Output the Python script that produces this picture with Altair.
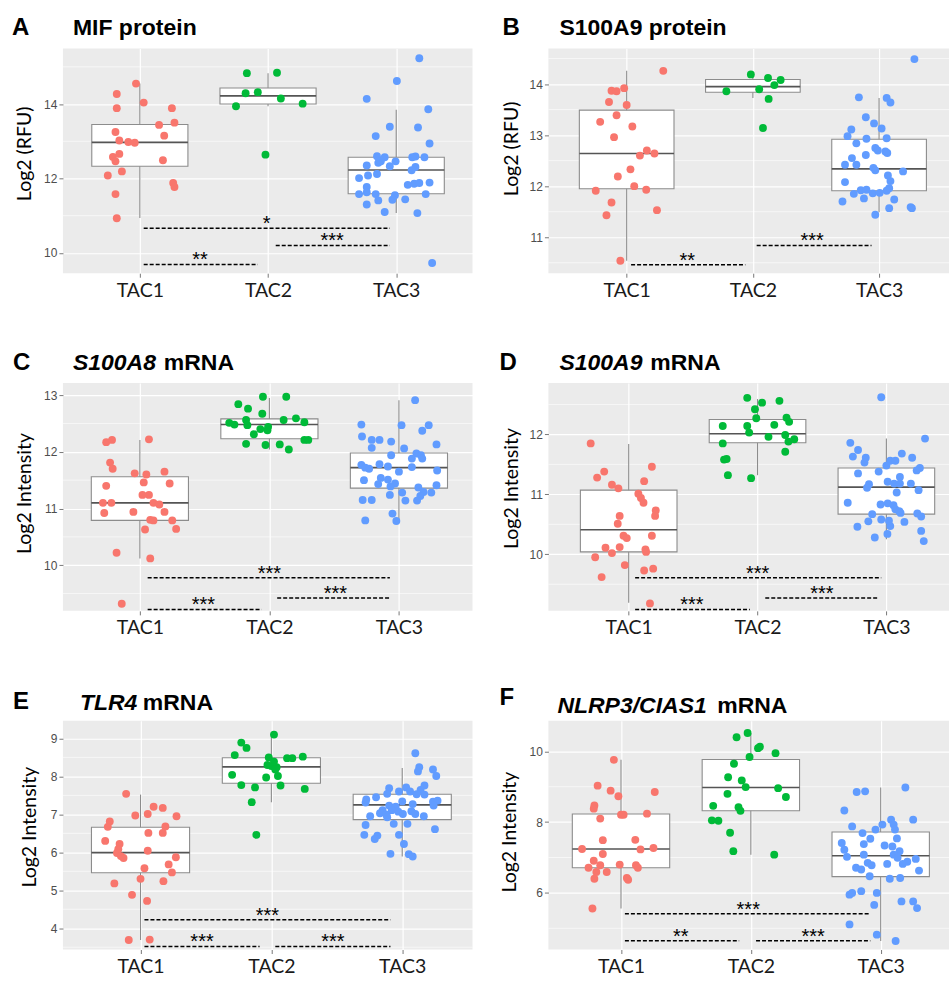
import altair as alt
import pandas as pd

CATS = ["TAC1", "TAC2", "TAC3"]
COLORS = ["#F8766D", "#00BA38", "#619CFF"]

# ---------------- Panel A : MIF protein ----------------
A_TAC1_Y = [14.55, 14.27, 13.89, 14.04, 13.89, 13.44, 13.50, 13.25, 13.15, 13.02, 12.98, 12.96, 12.58, 12.66, 12.46, 12.49, 12.19, 12.08, 11.88, 11.77, 11.58, 10.93]
A_TAC1_J = [-0.03, -0.18, -0.18, 0.03, 0.25, 0.15, 0.27, -0.19, 0.19, -0.16, -0.09, -0.04, -0.21, -0.16, -0.19, 0.18, -0.14, -0.25, 0.26, 0.27, -0.19, -0.18]
A_TAC2_Y = [14.83, 14.84, 14.29, 14.32, 14.15, 13.94, 14.01, 12.64]
A_TAC2_J = [-0.165, 0.07, -0.175, -0.08, 0.10, -0.25, 0.27, -0.02]
A_TAC3_Y = [15.23, 14.62, 14.14, 13.86, 13.39, 13.37, 13.14, 12.94, 12.60, 12.57, 12.59, 12.57, 12.46, 12.42, 12.46, 12.33, 12.57, 12.35, 12.31, 12.22,
            12.01, 12.08, 12.12, 11.83, 11.86, 11.88, 11.89, 11.77, 11.58, 11.63, 11.58, 11.55, 11.43, 11.58, 11.41, 11.44, 11.30, 11.10, 11.07, 9.73]
A_TAC3_J = [0.18, 0.005, -0.23, 0.25, -0.05, 0.17, -0.16, 0.26, -0.15, -0.09, 0.15, 0.22, -0.12, -0.14, -0.005, -0.05, 0.125, -0.23, 0.15, 0.12,
            -0.29, -0.22, -0.15, 0.09, 0.14, 0.18, 0.26, -0.23, -0.29, -0.23, -0.16, -0.01, -0.03, 0.23, -0.14, 0.07, -0.23, -0.09, 0.165, 0.28]
A_BOX_LO = [10.94, 13.94, 11.07]
A_BOX_Q1 = [12.33, 14.00, 11.59]
A_BOX_MED = [12.97, 14.22, 12.23]
A_BOX_Q3 = [13.45, 14.43, 12.57]
A_BOX_HI = [14.55, 14.83, 13.85]
A_SIG_X1 = [1.03, 2.06, 1.03]
A_SIG_X2 = [2.95, 2.95, 1.92]
A_SIG_Y = [10.66, 10.20, 9.69]
A_SIG_TX = [1.99, 2.50, 1.47]
A_SIG_LAB = ["*", "***", "**"]
A_MAJOR = [10, 12, 14]
A_MINOR = [11, 13, 15]

# ---------------- Panel B : S100A9 protein ----------------
B_TAC1_Y = [14.26, 13.87, 13.86, 13.92, 13.65, 13.59, 13.39, 13.26, 13.17, 12.96, 12.70, 12.60, 12.64, 12.33, 12.19, 12.00, 11.91, 11.93, 11.68, 11.43, 11.53, 10.54]
B_TAC1_J = [0.29, -0.12, -0.08, -0.02, -0.14, 0.0, -0.08, -0.21, 0.045, -0.10, 0.16, 0.105, 0.22, 0.03, -0.07, 0.06, -0.245, 0.155, -0.12, -0.16, 0.24, -0.05]
B_TAC2_Y = [14.19, 14.12, 14.08, 13.98, 13.86, 13.90, 13.71, 13.14]
B_TAC2_J = [-0.016, 0.12, 0.22, 0.17, -0.21, 0.05, 0.125, 0.08]
B_TAC3_Y = [14.49, 13.74, 13.73, 13.64, 13.35, 13.23, 13.13, 13.11, 12.98, 12.93, 12.94, 12.84, 12.75, 12.70, 12.65, 12.68, 12.55, 12.61, 12.42, 12.42,
            12.36, 12.31, 12.29, 12.21, 12.10, 12.08, 11.96, 11.92, 11.93, 11.91, 11.86, 11.87, 11.85, 11.76, 11.74, 11.70, 11.57, 11.59, 11.57, 11.44]
B_TAC3_J = [0.28, -0.16, 0.06, 0.09, -0.105, -0.04, 0.02, -0.22, -0.25, -0.10, 0.06, -0.18, -0.03, -0.01, 0.065, 0.05, -0.215, -0.105, -0.27, -0.18,
            -0.045, -0.03, 0.19, 0.07, 0.09, -0.27, 0.08, -0.145, -0.10, 0.06, -0.05, 0.005, -0.20, -0.12, 0.12, -0.29, 0.08, 0.25, 0.26, -0.03]
B_BOX_LO = [10.54, 13.73, 11.49]
B_BOX_Q1 = [11.95, 13.84, 11.91]
B_BOX_MED = [12.64, 13.95, 12.34]
B_BOX_Q3 = [13.49, 14.09, 12.92]
B_BOX_HI = [14.26, 14.19, 13.73]
B_SIG_X1 = [1.035, 2.03]
B_SIG_X2 = [1.94, 2.94]
B_SIG_Y = [10.46, 10.84]
B_SIG_TX = [1.48, 2.47]
B_SIG_LAB = ["**", "***"]
B_MAJOR = [11, 12, 13, 14]
B_MINOR = [10.5, 11.5, 12.5, 13.5, 14.5]

# ---------------- Panel C : S100A8 mRNA ----------------
C_TAC1_Y = [12.17, 12.21, 12.22, 11.81, 11.70, 11.62, 11.60, 11.65, 11.46, 11.44, 11.40, 11.24, 11.24, 11.10, 11.10, 11.10, 11.07, 10.94, 10.92, 10.94,
            10.80, 10.79, 10.79, 10.63, 10.64, 10.22, 10.12, 9.32]
C_TAC1_J = [-0.26, -0.215, 0.07, -0.23, -0.21, -0.04, 0.05, 0.19, 0.03, 0.23, -0.26, 0.02, 0.07, -0.285, -0.22, 0.105, 0.15, -0.05, -0.275, 0.19,
            0.08, 0.105, 0.25, 0.04, 0.28, -0.18, 0.08, -0.14]
C_TAC2_Y = [12.97, 12.97, 12.84, 12.76, 12.67, 12.56, 12.59, 12.56, 12.52, 12.51, 12.48, 12.47, 12.44, 12.40, 12.38, 12.31, 12.21, 12.21, 12.14, 12.12, 12.13, 12.04]
C_TAC2_J = [-0.05, 0.13, -0.24, -0.165, -0.055, 0.11, 0.205, -0.18, 0.27, -0.31, -0.27, -0.17, -0.01, -0.07, -0.015, -0.12, 0.27, 0.30, -0.18, -0.03, 0.08, 0.15]
C_TAC3_Y = [12.91, 12.48, 12.47, 12.47, 12.37, 12.27, 12.21, 12.21, 12.18, 12.13, 12.07, 12.06, 11.94, 11.97, 11.94, 11.88, 11.88, 11.77, 11.78, 11.74,
            11.72, 11.70, 11.73, 11.67, 11.65, 11.54, 11.51, 11.50, 11.43, 11.44, 11.41, 11.39, 11.37, 11.28, 11.29, 11.28, 11.22, 11.24, 11.15, 11.15,
            11.14, 11.14, 10.91, 10.79, 10.78]
C_TAC3_J = [0.125, -0.29, 0.02, 0.23, 0.18, -0.285, -0.21, -0.15, -0.06, 0.29, -0.21, 0.04, -0.06, 0.135, 0.17, 0.10, 0.18, -0.29, -0.15, -0.085,
            -0.26, -0.23, 0.10, 0.295, 0.0, -0.14, -0.085, -0.27, -0.16, -0.03, 0.29, -0.065, 0.15, 0.025, 0.19, 0.25, 0.165, -0.07, -0.28, -0.21,
            0.05, 0.14, -0.05, -0.26, -0.02]
C_BOX_LO = [10.12, 12.04, 10.78]
C_BOX_Q1 = [10.79, 12.23, 11.36]
C_BOX_MED = [11.10, 12.48, 11.72]
C_BOX_Q3 = [11.56, 12.58, 11.98]
C_BOX_HI = [12.21, 12.95, 12.91]
C_SIG_X1 = [1.06, 2.06, 1.06]
C_SIG_X2 = [2.93, 2.93, 1.94]
C_SIG_Y = [9.78, 9.42, 9.22]
C_SIG_TX = [2.0, 2.51, 1.49]
C_SIG_LAB = ["***", "***", "***"]
C_MAJOR = [10, 11, 12, 13]
C_MINOR = [9.5, 10.5, 11.5, 12.5]

# ---------------- Panel D : S100A9 mRNA ----------------
D_TAC1_Y = [11.85, 11.38, 11.28, 11.46, 11.16, 11.10, 11.22, 11.01, 10.94, 10.86, 10.64, 10.73, 10.64, 10.51, 10.31, 10.27, 10.31, 10.11, 10.12, 10.02,
            10.08, 10.04, 9.95, 9.82, 9.73, 9.76, 9.62, 9.18]
D_TAC1_J = [-0.295, -0.19, -0.245, 0.18, -0.13, -0.08, 0.12, 0.075, 0.095, 0.115, -0.07, 0.21, 0.205, -0.085, -0.04, -0.015, 0.18, -0.18, -0.07, -0.13,
            0.13, 0.135, -0.26, -0.03, 0.12, 0.19, -0.21, 0.165]
D_TAC2_Y = [12.61, 12.53, 12.56, 12.42, 12.27, 12.28, 12.21, 12.14, 12.14, 12.16, 12.03, 11.96, 11.99, 11.92, 11.88, 11.85, 11.71, 11.58, 11.59, 11.32, 11.27]
D_TAC2_J = [-0.08, 0.035, 0.17, -0.02, -0.01, 0.225, 0.245, -0.27, -0.08, 0.13, -0.065, 0.085, 0.215, 0.285, 0.24, -0.27, 0.215, -0.26, -0.24, -0.23, -0.05]
D_TAC3_Y = [12.62, 11.93, 11.86, 11.74, 11.63, 11.61, 11.53, 11.68, 11.61, 11.56, 11.56, 11.48, 11.44, 11.40, 11.38, 11.35, 11.29, 11.21, 11.18, 11.18,
            11.18, 11.17, 11.11, 11.07, 11.03, 10.86, 10.83, 10.85, 10.82, 10.75, 10.72, 10.69, 10.68, 10.67, 10.63, 10.58, 10.55, 10.56, 10.54, 10.46,
            10.47, 10.39, 10.34, 10.28, 10.22]
D_TAC3_J = [-0.04, 0.30, -0.28, -0.22, -0.26, -0.16, -0.17, 0.12, 0.20, 0.03, 0.07, 0.0, 0.26, 0.235, -0.06, -0.22, 0.105, 0.01, 0.06, 0.105,
            0.19, -0.135, -0.15, 0.25, 0.08, -0.30, -0.045, 0.01, 0.055, 0.07, 0.10, 0.11, 0.24, -0.11, 0.27, -0.04, -0.14, 0.02, 0.14, -0.225,
            0.03, 0.27, 0.008, -0.09, 0.29]
D_BOX_LO = [9.19, 11.32, 10.25]
D_BOX_Q1 = [10.04, 11.86, 10.67]
D_BOX_MED = [10.41, 12.01, 11.12]
D_BOX_Q3 = [11.07, 12.25, 11.44]
D_BOX_HI = [11.84, 12.59, 11.93]
D_SIG_X1 = [1.05, 2.06, 1.05]
D_SIG_X2 = [2.96, 2.94, 1.94]
D_SIG_Y = [9.61, 9.27, 9.08]
D_SIG_TX = [2.0, 2.50, 1.49]
D_SIG_LAB = ["***", "***", "***"]
D_MAJOR = [10, 11, 12]
D_MINOR = [9.5, 10.5, 11.5, 12.5]

# ---------------- Panel E : TLR4 mRNA ----------------
E_TAC1_Y = [7.54, 7.20, 7.17, 6.81, 6.67, 6.97, 7.01, 6.95, 6.68, 6.51, 6.51, 6.30, 6.22, 6.08, 6.04, 5.98, 5.90, 5.85, 5.87, 5.68,
            5.58, 5.47, 5.30, 5.24, 5.18, 4.88, 4.72, 3.69, 3.70]
E_TAC1_J = [-0.11, 0.10, 0.17, -0.235, -0.25, -0.04, 0.055, 0.275, 0.19, 0.17, 0.06, -0.27, -0.16, -0.17, 0.055, -0.18, -0.15, -0.13, 0.27, 0.215,
            0.03, 0.24, 0.0, 0.175, -0.20, -0.065, 0.05, -0.09, 0.07]
E_TAC2_Y = [9.10, 8.89, 8.75, 8.56, 8.50, 8.48, 8.48, 8.52, 8.39, 8.30, 8.27, 8.24, 8.18, 8.04, 8.01, 7.97, 7.77, 7.71, 7.76, 7.67, 7.32, 6.46]
E_TAC2_J = [0.02, -0.23, -0.19, -0.28, -0.02, 0.12, 0.16, 0.24, 0.02, -0.03, 0.0, 0.04, 0.03, -0.30, 0.05, -0.04, -0.23, -0.125, 0.07, 0.255, -0.15, -0.115]
E_TAC3_Y = [8.61, 8.24, 8.13, 8.18, 8.01, 7.76, 7.69, 7.60, 7.71, 7.60, 7.64, 7.54, 7.53, 7.52, 7.45, 7.39, 7.31, 7.34, 7.33, 7.36,
            7.23, 7.20, 7.27, 7.23, 7.11, 7.11, 7.07, 7.08, 7.03, 6.99, 7.01, 7.01, 6.95, 6.92, 6.95, 6.75, 6.75, 6.72, 6.61, 6.46,
            6.46, 6.44, 6.35, 6.22, 5.96, 5.95, 5.89]
E_TAC3_J = [0.10, 0.13, 0.12, 0.235, 0.26, 0.17, -0.10, -0.025, 0.03, 0.06, 0.14, -0.115, 0.11, 0.17, -0.20, -0.275, -0.28, 0.0, 0.235, 0.27,
            -0.10, -0.05, 0.08, 0.24, -0.15, -0.08, -0.03, 0.07, -0.17, -0.12, 0.005, 0.10, -0.245, -0.115, 0.165, -0.065, 0.04, -0.28, 0.25, -0.29,
            -0.025, -0.19, -0.21, 0.013, -0.09, 0.05, 0.08]
E_BOX_LO = [3.69, 7.32, 5.89]
E_BOX_Q1 = [5.46, 7.82, 6.86]
E_BOX_MED = [5.99, 8.25, 7.25]
E_BOX_Q3 = [6.66, 8.49, 7.53]
E_BOX_HI = [7.52, 9.10, 8.22]
E_SIG_X1 = [1.03, 1.03, 2.03]
E_SIG_X2 = [2.91, 1.91, 2.91]
E_SIG_Y = [4.22, 3.52, 3.52]
E_SIG_TX = [1.97, 1.47, 2.47]
E_SIG_LAB = ["***", "***", "***"]
E_MAJOR = [4, 5, 6, 7, 8, 9]
E_MINOR = [3.5, 4.5, 5.5, 6.5, 7.5, 8.5]

# ---------------- Panel F : NLRP3/CIAS1 mRNA ----------------
F_TAC1_Y = [9.76, 9.03, 8.89, 8.73, 8.85, 8.47, 8.38, 8.21, 8.21, 8.24, 8.10, 7.49, 7.50, 7.24, 7.23, 7.27, 7.10, 6.91, 6.78, 6.80,
            6.78, 6.71, 6.71, 6.59, 6.59, 6.40, 6.42, 6.37, 5.56]
F_TAC1_J = [-0.055, -0.18, -0.08, -0.02, 0.26, -0.205, -0.21, 0.0, 0.02, 0.20, -0.16, -0.14, 0.11, -0.30, 0.15, 0.25, -0.14, -0.21, -0.16, -0.01,
            0.115, -0.25, 0.13, -0.19, -0.11, -0.205, 0.045, 0.055, -0.22]
F_TAC2_Y = [10.52, 10.40, 10.09, 10.13, 9.95, 9.84, 9.65, 9.27, 9.18, 8.99, 8.96, 8.80, 8.71, 8.46, 8.42, 8.32, 8.05, 8.04, 7.70, 7.18, 7.08]
F_TAC2_J = [-0.025, -0.11, 0.055, 0.07, 0.19, -0.01, -0.13, -0.175, -0.07, -0.04, 0.21, -0.18, 0.27, -0.29, -0.095, -0.08, -0.30, -0.25, -0.16, -0.135, 0.18]
F_TAC3_Y = [8.98, 8.85, 8.87, 8.33, 8.07, 8.07, 7.93, 7.93, 7.88, 7.79, 7.79, 7.69, 7.54, 7.53, 7.38, 7.41, 7.34, 7.31, 7.22, 7.18,
            7.02, 7.08, 7.08, 6.99, 6.96, 6.88, 6.82, 6.82, 6.85, 6.78, 6.71, 6.66, 6.63, 6.47, 6.40, 6.42, 5.95, 6.00, 6.05, 6.00,
            5.76, 5.76, 5.57, 5.66, 5.11, 4.82, 4.64]
F_TAC3_J = [0.19, -0.185, -0.12, -0.28, 0.25, 0.08, 0.013, 0.10, -0.22, -0.04, 0.11, -0.14, 0.125, -0.08, -0.13, -0.30, 0.03, 0.09, -0.28, 0.145,
            -0.26, -0.13, 0.10, 0.13, 0.27, 0.205, 0.17, 0.05, -0.10, -0.07, -0.19, -0.15, 0.295, -0.085, 0.07, 0.15, -0.24, -0.22, -0.15, -0.03,
            0.16, 0.25, 0.28, -0.05, -0.24, -0.03, 0.115]
F_BOX_LO = [5.56, 7.08, 4.64]
F_BOX_Q1 = [6.71, 8.32, 6.46]
F_BOX_MED = [7.24, 8.98, 7.05]
F_BOX_Q3 = [8.23, 9.77, 7.72]
F_BOX_HI = [9.76, 10.52, 8.98]
F_SIG_X1 = [1.03, 1.03, 2.04]
F_SIG_X2 = [2.92, 1.91, 2.92]
F_SIG_Y = [5.41, 4.65, 4.65]
F_SIG_TX = [1.98, 1.46, 2.48]
F_SIG_LAB = ["***", "**", "***"]
F_MAJOR = [6, 8, 10]
F_MINOR = [5, 7, 9]

BOX_HALF = 0.375
LABEL_FONT = "Lato"
TICK_FONT = "Liberation Sans"
TITLE_FONT = "Liberation Sans"


def panel(ys, js, box, sig, major, minor, xdom, ydom, w, h, ytitle, title_x, title_y,
          letter, letter_pos, titles):
    xs = alt.Scale(domain=xdom, nice=False, zero=False)
    ysc = alt.Scale(domain=ydom, nice=False, zero=False)
    xaxis = alt.Axis(values=[1, 2, 3],
                     labelExpr="datum.value == 1 ? 'TAC1' : (datum.value == 2 ? 'TAC2' : 'TAC3')",
                     title=None, grid=True, gridColor="white", gridWidth=1.2, domain=False,
                     tickSize=4, tickColor="#777777", labelFont=LABEL_FONT, labelFontSize=19.5,
                     labelColor="#1a1a1a", labelPadding=4)
    yaxis = alt.Axis(values=major, format="d", title=ytitle, grid=True, gridColor="white",
                     gridWidth=1.2, domain=False, tickSize=4, tickColor="#777777",
                     labelFont=TICK_FONT, labelFontSize=12, labelColor="#4D4D4D", labelPadding=2,
                     titleFont=LABEL_FONT, titleFontSize=19.5, titleFontWeight="normal",
                     titleColor="black", titleX=title_x, titleY=title_y, titleAngle=270,
                     titleAlign="center", titleBaseline="middle")

    rows = []
    for gi, (yv, jv) in enumerate(zip(ys, js)):
        assert len(yv) == len(jv), (ytitle, gi, len(yv), len(jv))
        for y, j in zip(yv, jv):
            rows.append({"grp": CATS[gi], "pos": gi + 1 + j, "val": y})
    pts = pd.DataFrame(rows)

    lo, q1, med, q3, hi = box
    bdf = pd.DataFrame({"cat": [1, 2, 3], "lo": lo, "q1": q1, "med": med, "q3": q3, "hi": hi})
    bdf["xl"] = bdf["cat"] - BOX_HALF
    bdf["xr"] = bdf["cat"] + BOX_HALF

    x1, x2, sy, tx, lab = sig
    sdf = pd.DataFrame({"x1": x1, "x2": x2, "y": sy, "tx": tx, "lab": lab})

    mdf = pd.DataFrame({"v": minor})

    minor_layer = alt.Chart(mdf).mark_rule(color="white", strokeWidth=0.6).encode(
        y=alt.Y("v:Q", scale=ysc, axis=yaxis),
        x=alt.value(0), x2=alt.value(w))
    whisk = alt.Chart(bdf).mark_rule(color="#8C8C8C", strokeWidth=1.1).encode(
        x=alt.X("cat:Q", scale=xs, axis=xaxis),
        y=alt.Y("lo:Q", scale=ysc, axis=yaxis), y2="hi:Q")
    boxes = alt.Chart(bdf).mark_rect(fill="white", stroke="#8C8C8C", strokeWidth=1.1).encode(
        x=alt.X("xl:Q", scale=xs, axis=xaxis), x2="xr:Q",
        y=alt.Y("q1:Q", scale=ysc, axis=yaxis), y2="q3:Q")
    meds = alt.Chart(bdf).mark_rule(color="#555555", strokeWidth=1.6).encode(
        x=alt.X("xl:Q", scale=xs, axis=xaxis), x2="xr:Q",
        y=alt.Y("med:Q", scale=ysc, axis=yaxis))
    points = alt.Chart(pts).mark_circle(size=62, opacity=1).encode(
        x=alt.X("pos:Q", scale=xs, axis=xaxis),
        y=alt.Y("val:Q", scale=ysc, axis=yaxis),
        color=alt.Color("grp:N", scale=alt.Scale(domain=CATS, range=COLORS), legend=None))
    siglines = alt.Chart(sdf).mark_rule(color="black", strokeWidth=1.5, strokeDash=[4, 2]).encode(
        x=alt.X("x1:Q", scale=xs, axis=xaxis), x2="x2:Q",
        y=alt.Y("y:Q", scale=ysc, axis=yaxis))
    sigtext = alt.Chart(sdf).mark_text(font=TICK_FONT, fontSize=20, color="black",
                                       baseline="alphabetic", align="center", dy=2).encode(
        x=alt.X("tx:Q", scale=xs, axis=xaxis),
        y=alt.Y("y:Q", scale=ysc, axis=yaxis), text="lab:N")

    layers = [minor_layer, whisk, boxes, meds, points, siglines, sigtext]

    lx, ly = letter_pos
    layers.append(alt.Chart(pd.DataFrame({"t": [letter]})).mark_text(
        font=TITLE_FONT, fontSize=24, fontWeight="bold", align="left", baseline="alphabetic",
        color="black").encode(text="t:N", x=alt.value(lx), y=alt.value(ly)))
    for (txt, px, py, italic) in titles:
        layers.append(alt.Chart(pd.DataFrame({"t": [txt]})).mark_text(
            font=TITLE_FONT, fontSize=23, fontWeight="bold",
            fontStyle="italic" if italic else "normal",
            align="left", baseline="alphabetic", color="black").encode(
            text="t:N", x=alt.value(px), y=alt.value(py)))

    return alt.layer(*layers).properties(width=w, height=h)


pA = panel([A_TAC1_Y, A_TAC2_Y, A_TAC3_Y], [A_TAC1_J, A_TAC2_J, A_TAC3_J],
           (A_BOX_LO, A_BOX_Q1, A_BOX_MED, A_BOX_Q3, A_BOX_HI),
           (A_SIG_X1, A_SIG_X2, A_SIG_Y, A_SIG_TX, A_SIG_LAB), A_MAJOR, A_MINOR,
           [0.40, 3.595], [9.454, 15.494], 410, 225, "Log2 (RFU)", -38, 105,
           "A", (-51, -13), [("MIF protein", 10, -13, False)])
pB = panel([B_TAC1_Y, B_TAC2_Y, B_TAC3_Y], [B_TAC1_J, B_TAC2_J, B_TAC3_J],
           (B_BOX_LO, B_BOX_Q1, B_BOX_MED, B_BOX_Q3, B_BOX_HI),
           (B_SIG_X1, B_SIG_X2, B_SIG_Y, B_SIG_TX, B_SIG_LAB), B_MAJOR, B_MINOR,
           [0.38, 3.554], [10.295, 14.698], 401, 225, "Log2 (RFU)", -37, 100,
           "B", (-46, -13), [("S100A9 protein", 11, -13, False)])
pC = panel([C_TAC1_Y, C_TAC2_Y, C_TAC3_Y], [C_TAC1_J, C_TAC2_J, C_TAC3_J],
           (C_BOX_LO, C_BOX_Q1, C_BOX_MED, C_BOX_Q3, C_BOX_HI),
           (C_SIG_X1, C_SIG_X2, C_SIG_Y, C_SIG_TX, C_SIG_LAB), C_MAJOR, C_MINOR,
           [0.406, 3.568], [9.195, 13.211], 410, 228, "Log2 Intensity", -38, 110,
           "C", (-50, -13), [("S100A8", 10, -13, True), ("mRNA", 101, -13, False)])
pD = panel([D_TAC1_Y, D_TAC2_Y, D_TAC3_Y], [D_TAC1_J, D_TAC2_J, D_TAC3_J],
           (D_BOX_LO, D_BOX_Q1, D_BOX_MED, D_BOX_Q3, D_BOX_HI),
           (D_SIG_X1, D_SIG_X2, D_SIG_Y, D_SIG_TX, D_SIG_LAB), D_MAJOR, D_MINOR,
           [0.377, 3.486], [9.056, 12.856], 401, 228, "Log2 Intensity", -37, 105,
           "D", (-49, -13), [("S100A9", 11, -13, True), ("mRNA", 102, -13, False)])
pE = panel([E_TAC1_Y, E_TAC2_Y, E_TAC3_Y], [E_TAC1_J, E_TAC2_J, E_TAC3_J],
           (E_BOX_LO, E_BOX_Q1, E_BOX_MED, E_BOX_Q3, E_BOX_HI),
           (E_SIG_X1, E_SIG_X2, E_SIG_Y, E_SIG_TX, E_SIG_LAB), E_MAJOR, E_MINOR,
           [0.407, 3.537], [3.439, 9.465], 410, 229, "Log2 Intensity", -33, 106,
           "E", (-50, -12), [("TLR4", 17, -11, True), ("mRNA", 80, -11, False)])
pF = panel([F_TAC1_Y, F_TAC2_Y, F_TAC3_Y], [F_TAC1_J, F_TAC2_J, F_TAC3_J],
           (F_BOX_LO, F_BOX_Q1, F_BOX_MED, F_BOX_Q3, F_BOX_HI),
           (F_SIG_X1, F_SIG_X2, F_SIG_Y, F_SIG_TX, F_SIG_LAB), F_MAJOR, F_MINOR,
           [0.441, 3.526], [4.40, 10.865], 401, 229, "Log2 Intensity", -39, 111,
           "F", (-49, -16), [("NLRP3/CIAS1", 9, -8, True), ("mRNA", 169, -8, False)])

chart = alt.concat(pA, pB, pC, pD, pE, pF, columns=2,
                   spacing={"row": 110, "column": 76}, bounds="flush").properties(
    padding={"left": 12, "top": 16, "right": 0, "bottom": 0},
    background="white"
).configure_view(fill="#EBEBEB", stroke=None)

chart.save("out.html", embed_options={"renderer": "svg", "actions": False})
